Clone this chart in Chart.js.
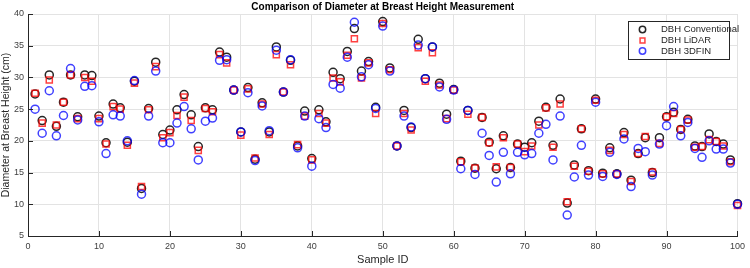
<!DOCTYPE html>
<html>
<head>
<meta charset="utf-8">
<script src="https://cdn.jsdelivr.net/npm/chart.js@4/dist/chart.umd.min.js"></script>
<style>
html,body{margin:0;padding:0;background:#fff;}
#wrap{width:750px;height:268px;position:relative;}
</style>
</head>
<body>
<div id="wrap"><canvas id="c" width="750" height="268"></canvas></div>
<script>
const titleText = "Comparison of Diameter at Breast Height Measurement";
const xTitle = "Sample ID";
const yTitle = "Diameter at Breast Height (cm)";
const seriesNames = ["DBH Conventional", "DBH LiDAR", "DBH 3DFIN"];

const sampleIds = Array.from({length: 100}, (_, i) => i + 1);

const dbhConventional = [
27.4, 23.2, 30.4, 22.3, 26.1, 30.4, 23.8, 30.4, 30.3, 23.9,
19.7, 25.8, 25.2, 19.8, 29.4, 12.5, 25.1, 32.4, 21.0, 21.7,
24.9, 27.3, 24.1, 19.1, 25.2, 24.9, 34.0, 33.2, 28.0, 21.4,
28.4, 17.1, 26.0, 21.4, 34.8, 27.7, 32.7, 19.2, 24.7, 17.2,
24.9, 23.0, 30.8, 29.8, 34.1, 37.7, 31.0, 32.5, 25.3, 38.8,
31.5, 19.2, 24.8, 22.1, 36.0, 29.8, 34.8, 29.1, 24.2, 28.1,
16.8, 24.8, 15.7, 23.7, 19.8, 15.6, 20.8, 15.8, 19.5, 19.0,
19.7, 23.1, 25.3, 19.3, 26.6, 10.2, 16.2, 21.9, 15.3, 26.6,
14.9, 18.9, 14.8, 21.3, 13.8, 18.0, 20.5, 15.0, 20.5, 23.8,
24.5, 21.8, 23.4, 19.2, 19.1, 21.1, 19.9, 19.5, 17.0, 10.1];

const dbhLidar = [
27.5, 22.8, 29.6, 22.5, 26.1, 30.4, 23.5, 30.0, 29.4, 23.5,
19.5, 25.4, 25.0, 19.3, 29.1, 12.8, 24.9, 31.7, 20.5, 21.3,
24.0, 26.9, 23.2, 18.5, 25.1, 24.6, 33.6, 32.3, 28.0, 20.9,
28.2, 17.3, 25.8, 21.0, 33.6, 27.7, 32.0, 19.4, 23.9, 17.0,
24.3, 22.8, 29.9, 29.3, 33.5, 36.1, 29.9, 32.3, 24.3, 38.5,
31.2, 19.2, 24.3, 21.7, 34.7, 29.4, 33.9, 28.8, 23.5, 28.0,
16.7, 24.2, 15.7, 23.7, 19.7, 15.9, 20.5, 15.8, 19.5, 18.3,
19.2, 22.5, 25.2, 19.0, 25.8, 10.4, 16.0, 21.9, 15.2, 26.4,
14.8, 18.5, 14.8, 21.0, 13.6, 18.0, 20.7, 15.1, 19.6, 23.8,
24.3, 21.8, 23.3, 19.0, 19.1, 20.2, 19.9, 19.2, 16.7, 9.8];

const dbh3dfin = [
25.0, 21.2, 27.9, 20.8, 24.0, 31.4, 23.3, 28.6, 28.7, 23.0,
18.0, 24.1, 23.9, 20.0, 29.5, 11.6, 23.9, 31.0, 19.7, 19.7,
22.8, 25.4, 21.9, 17.0, 23.1, 23.6, 32.7, 32.8, 28.0, 21.4,
27.6, 16.9, 25.5, 21.6, 34.3, 27.7, 32.8, 18.9, 23.9, 16.0,
23.5, 22.1, 28.9, 28.3, 33.2, 38.7, 30.1, 32.0, 25.1, 38.1,
31.0, 19.2, 23.9, 22.2, 35.1, 29.8, 34.8, 28.5, 23.4, 28.0,
15.6, 24.8, 14.7, 21.2, 17.7, 13.5, 18.2, 14.8, 18.2, 17.8,
18.0, 21.2, 22.6, 17.0, 23.9, 8.3, 14.3, 19.3, 14.6, 26.1,
14.4, 18.2, 14.7, 20.3, 12.8, 18.8, 18.3, 14.6, 19.5, 22.4,
25.4, 20.8, 22.9, 18.8, 17.4, 20.0, 18.7, 18.7, 16.5, 10.0];

const xTicks = [0, 10, 20, 30, 40, 50, 60, 70, 80, 90, 100];
const yTicks = [5, 10, 15, 20, 25, 30, 35, 40];

const FONT = "'Liberation Sans', Arial, Helvetica, sans-serif";
const AXIS_COLOR = '#262626';
const TICK_TEXT = '#404040';

function pts(vals){ return vals.map((v, i) => ({x: sampleIds[i], y: v})); }

const styles = [
  {color: 'rgba(0,0,0,0.85)', style: 'circle', radius: 4, width: 1.5},
  {color: 'rgba(255,0,0,0.75)', style: 'rect', radius: 4.3, width: 1.5},
  {color: 'rgba(0,0,255,0.75)', style: 'circle', radius: 4, width: 1.5}
];

const seriesValues = [dbhConventional, dbhLidar, dbh3dfin];

const datasets = seriesValues.map((vals, k) => ({
  label: seriesNames[k],
  data: pts(vals),
  showLine: false,
  pointStyle: styles[k].style,
  pointRadius: styles[k].radius,
  pointHoverRadius: styles[k].radius,
  pointBorderWidth: styles[k].width,
  borderColor: styles[k].color,
  backgroundColor: 'rgba(0,0,0,0)',
  pointBackgroundColor: 'rgba(0,0,0,0)',
  order: 3 - k,
  clip: false
}));

const extras = {
  id: 'extras',
  afterDraw(chart) {
    const ctx = chart.ctx;
    const a = chart.chartArea;
    const xs = chart.scales.x, ys = chart.scales.y;
    ctx.save();
    // inward tick marks
    ctx.strokeStyle = AXIS_COLOR;
    ctx.lineWidth = 1;
    ctx.beginPath();
    xTicks.forEach(t => {
      const px = Math.round(xs.getPixelForValue(t)) + 0.5;
      ctx.moveTo(px, a.bottom); ctx.lineTo(px, a.bottom - 5);
    });
    yTicks.forEach(t => {
      const py = Math.round(ys.getPixelForValue(t)) + 0.5;
      ctx.moveTo(a.left, py); ctx.lineTo(a.left + 5, py);
    });
    ctx.stroke();
    // title
    ctx.fillStyle = '#000';
    ctx.font = "bold 10px " + FONT;
    ctx.textAlign = 'center';
    ctx.textBaseline = 'middle';
    ctx.fillText(titleText, (a.left + a.right) / 2, 7);
    // legend
    const lx = 628, ly = 21, lw = 101, lh = 38;
    ctx.fillStyle = '#fff';
    ctx.fillRect(lx, ly, lw, lh);
    ctx.strokeStyle = '#262626';
    ctx.lineWidth = 1;
    ctx.strokeRect(lx + 0.5, ly + 0.5, lw, lh);
    ctx.font = "9.5px " + FONT;
    ctx.textAlign = 'left';
    ctx.textBaseline = 'middle';
    const rows = [29.5, 40.5, 51];
    seriesNames.forEach((name, k) => {
      ctx.strokeStyle = styles[k].color;
      ctx.fillStyle = 'rgba(0,0,0,0)';
      ctx.lineWidth = styles[k].width;
      Chart.helpers.drawPoint(ctx, {pointStyle: styles[k].style, radius: styles[k].radius * 0.8, borderWidth: styles[k].width}, 642.5, rows[k]);
      ctx.fillStyle = '#262626';
      ctx.fillText(name, 661, rows[k]);
    });
    ctx.restore();
  }
};

new Chart(document.getElementById('c'), {
  type: 'scatter',
  data: { datasets },
  options: {
    responsive: false,
    animation: false,
    devicePixelRatio: 1,
    layout: { padding: { left: 0, right: 10, top: 14, bottom: 0 } },
    plugins: { legend: { display: false }, tooltip: { enabled: false }, title: { display: false } },
    scales: {
      x: {
        type: 'linear', min: 0, max: 100,
        afterBuildTicks: s => { s.ticks = xTicks.map(v => ({value: v})); },
        afterFit: s => { s.height = 32; },
        ticks: { font: { family: FONT, size: 9 }, color: TICK_TEXT, padding: 5, maxRotation: 0, autoSkip: false },
        grid: { color: '#e3e3e3', lineWidth: 1, drawTicks: false },
        border: { color: AXIS_COLOR, width: 1 },
        title: { display: true, text: xTitle, font: { family: FONT, size: 11 }, color: '#262626', padding: { top: 0, bottom: 1 } }
      },
      y: {
        type: 'linear', min: 5, max: 40,
        afterBuildTicks: s => { s.ticks = yTicks.map(v => ({value: v})); },
        afterFit: s => { s.width = 28; },
        ticks: { font: { family: FONT, size: 9 }, color: TICK_TEXT, padding: 4, autoSkip: false },
        grid: { color: '#e3e3e3', lineWidth: 1, drawTicks: false },
        border: { color: AXIS_COLOR, width: 1 },
        title: { display: true, text: yTitle, font: { family: FONT, size: 10.5 }, color: '#262626', padding: { top: 0, bottom: 0 } }
      }
    }
  },
  plugins: [extras]
});
</script>
</body>
</html>
